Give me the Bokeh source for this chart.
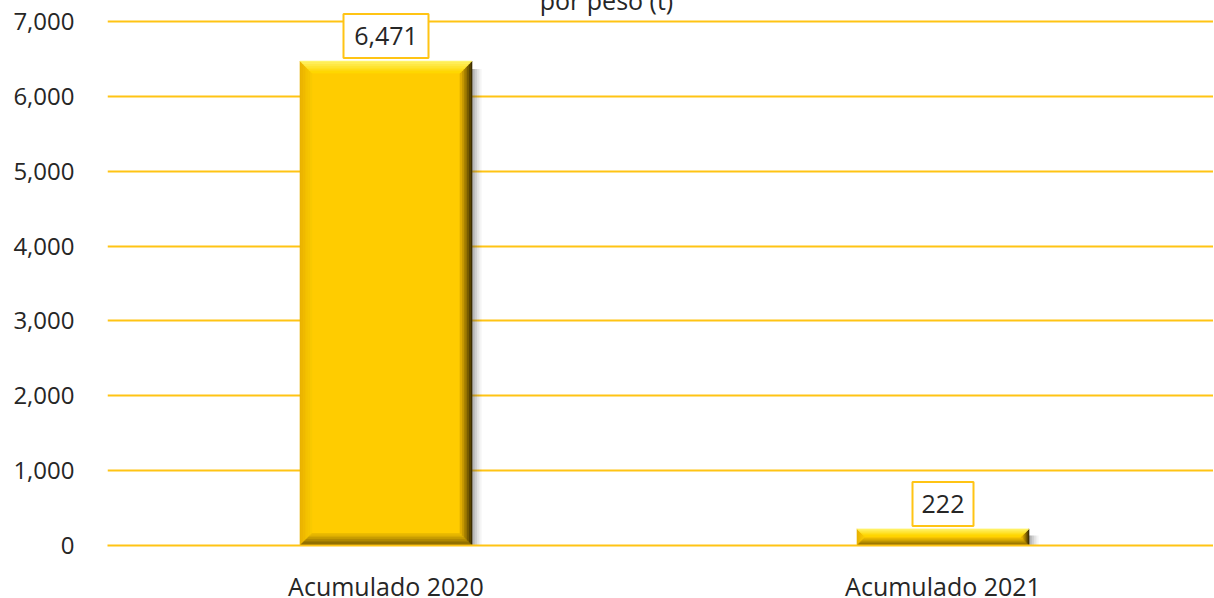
import numpy as np
from bokeh.plotting import figure
from bokeh.models import Range1d, FixedTicker, NumeralTickFormatter, Label
from bokeh.core.properties import value
from bokeh.embed import file_html
from bokeh.resources import INLINE

# ---- data ----
categories = ["Acumulado 2020", "Acumulado 2021"]
values = [6471, 222]
value_labels = ["6,471", "222"]
y_ticks = [0, 1000, 2000, 3000, 4000, 5000, 6000, 7000]
title_text = "por peso (t)"

# ---- layout constants ----
W, H = 1214, 598
L, T, B = 108, 22, 60
grid_h = 524                       # pixel height of 0..7000
frame_w = W - L
frame_h = grid_h + T               # frame extends up to the top edge
cat_px = 557.0
x_start = 0.0
x_end = frame_w / cat_px
px_x = 1.0 / cat_px
px_y = 7000.0 / grid_h
y_start, y_end = 0, 7000 + T * px_y
bar_w = 172.0 / cat_px

GOLD = "#FFC414"
TEXT = "#262626"
FONT = "Open Sans"

p = figure(frame_width=frame_w, frame_height=frame_h,
           x_range=Range1d(x_start, x_end), y_range=Range1d(y_start, y_end),
           output_backend="svg", toolbar_location=None,
           min_border_left=L, min_border_top=0, min_border_bottom=B, min_border_right=0,
           margin=(-1, -8, -8, -1))
p.outline_line_color = None
p.background_fill_color = "white"
p.xgrid.grid_line_color = None
p.ygrid.grid_line_color = GOLD
p.ygrid.grid_line_width = 2
p.ygrid.ticker = FixedTicker(ticks=y_ticks)

p.yaxis.ticker = FixedTicker(ticks=y_ticks)
p.yaxis.formatter = NumeralTickFormatter(format="0,0")
p.yaxis.axis_line_color = None
p.yaxis.major_tick_line_color = None
p.yaxis.minor_tick_line_color = None
p.yaxis.major_label_standoff = 27
p.yaxis.major_label_text_font = FONT
p.yaxis.major_label_text_font_size = "24px"
p.yaxis.major_label_text_color = TEXT

xc = [i + 0.5 for i in range(len(categories))]
p.xaxis.ticker = FixedTicker(ticks=xc)
p.xaxis.major_label_overrides = {x: c for x, c in zip(xc, categories)}
p.xaxis.axis_line_color = GOLD
p.xaxis.axis_line_width = 2
p.xaxis.major_tick_line_color = None
p.xaxis.minor_tick_line_color = None
p.xaxis.major_label_standoff = 17
p.xaxis.major_label_text_font = FONT
p.xaxis.major_label_text_font_size = "25px"
p.xaxis.major_label_text_color = TEXT


def hex2rgb(h):
    h = h.lstrip("#")
    return np.array([int(h[i:i + 2], 16) for i in (0, 2, 4)], dtype=float)


def mix(c1, c2, t):
    c = hex2rgb(c1) * (1 - t) + hex2rgb(c2) * t
    return "#%02x%02x%02x" % tuple(int(round(v)) for v in c)


BODY = "#FFCC00"
side_cols = {
    "left": ("#E9B200", "#FACA00"),
    "right": ("#3D2E00", "#E2AE00"),
    "top": ("#FFF46A", "#FFD600"),
    "bottom": ("#7A5C00", "#E8B800"),
}

shadow_xs, shadow_ys, shadow_alpha = [], [], []
body_l, body_r, body_b, body_t = [], [], [], []
pxs, pys, pcols = [], [], []
N = 7
for cx, v in zip(xc, values):
    x0, x1 = cx - bar_w / 2, cx + bar_w / 2
    y0, y1 = 0.0, float(v)
    nsh = 6
    for k in range(nsh):
        a = k * 10.0 / nsh
        b = (k + 1) * 10.0 / nsh
        shadow_xs.append([x1 + a * px_x, x1 + b * px_x, x1 + b * px_x, x1 + a * px_x])
        top_sh = y1 - min(8.0, (y1 - y0) / px_y * 0.4) * px_y
        shadow_ys.append([y0, y0, top_sh, top_sh])
        shadow_alpha.append(0.5 * (1 - k / nsh) ** 1.5)
    body_l.append(x0); body_r.append(x1); body_b.append(y0); body_t.append(y1)
    hpx = (y1 - y0) / px_y
    bev = min(12.0, hpx * 0.45)
    for k in range(N):
        a = bev * k / N
        b = bev * (k + 1) / N
        t = k / (N - 1)
        ax, bx, ay, by = a * px_x, b * px_x, a * px_y, b * px_y
        polys = {
            "left": ([x0 + ax, x0 + bx, x0 + bx, x0 + ax], [y1 - ay, y1 - by, y0 + by, y0 + ay]),
            "right": ([x1 - ax, x1 - bx, x1 - bx, x1 - ax], [y1 - ay, y1 - by, y0 + by, y0 + ay]),
            "top": ([x0 + ax, x1 - ax, x1 - bx, x0 + bx], [y1 - ay, y1 - ay, y1 - by, y1 - by]),
            "bottom": ([x0 + ax, x1 - ax, x1 - bx, x0 + bx], [y0 + ay, y0 + ay, y0 + by, y0 + by]),
        }
        for side in ["left", "right", "top", "bottom"]:
            xs_, ys_ = polys[side]
            c_out, c_in = side_cols[side]
            pxs.append(xs_); pys.append(ys_); pcols.append(mix(c_out, c_in, t))

p.patches(shadow_xs, shadow_ys, fill_color="#555555", fill_alpha=shadow_alpha, line_color=None)
p.quad(left=body_l, right=body_r, bottom=body_b, top=body_t, fill_color=BODY, line_color=None)
p.patches(pxs, pys, fill_color=pcols, line_color=pcols, line_width=0.6)

# value label boxes
box_off = 25
box_y = [v + box_off * px_y for v in values]
box_w = [12 * len(s) + 25 for s in value_labels]
p.rect(x=xc, y=box_y, width=box_w, height=44, width_units="screen", height_units="screen",
       fill_color="white", line_color=GOLD, line_width=2)
p.text(x=xc, y=box_y, text=value_labels, text_align="center", text_baseline="middle",
       text_font=value(FONT), text_font_size="25px", text_color=TEXT)

# partially visible title (cut by the top edge, as in the source)
title_x = x_start + (W / 2 - L) * px_x
title_y = 7000 + T * px_y
p.add_layout(Label(x=title_x, y=title_y, text=title_text, text_align="center",
                   text_baseline="alphabetic", text_font=FONT, text_font_size="25px",
                   text_color=TEXT))

open("out.html", "w").write(file_html(p, INLINE))
